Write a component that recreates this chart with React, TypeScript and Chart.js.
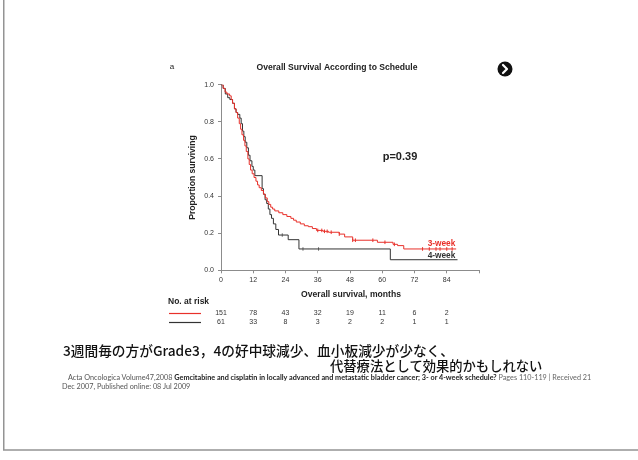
import React, { useEffect, useRef } from "react";
import { Chart, registerables } from "chart.js";

Chart.register(...registerables);

// ---- data ----
const redTimes = [0, 0.8, 1.5, 2.2, 3.2, 3.8, 4.3, 5.0, 5.6, 6.2, 6.8, 7.3, 7.8, 8.4, 8.9, 9.4, 10.0, 10.5, 11.0, 11.6, 12.3, 13.0, 13.6, 14.2, 15.0, 15.8, 16.5, 17.2, 17.8, 18.5, 19.2, 20.0, 21.5, 23.0, 24.5, 26.0, 27.0, 28.0, 29.5, 31.0, 32.5, 34.0, 35.5, 38.0, 40.0, 44.0, 46.0, 49.0, 58.2, 64.0, 65.7, 68.0, 87.5];
const redSurv = [1.0, 0.98, 0.96, 0.95, 0.94, 0.92, 0.9, 0.87, 0.85, 0.82, 0.79, 0.76, 0.73, 0.7, 0.67, 0.64, 0.6, 0.57, 0.54, 0.52, 0.5, 0.48, 0.46, 0.445, 0.43, 0.41, 0.39, 0.37, 0.355, 0.34, 0.33, 0.32, 0.31, 0.3, 0.29, 0.28, 0.27, 0.26, 0.25, 0.24, 0.235, 0.225, 0.215, 0.21, 0.205, 0.195, 0.18, 0.162, 0.151, 0.14, 0.133, 0.115, 0.115];
const blackTimes = [0, 0.8, 1.6, 2.5, 3.3, 4.3, 5.0, 5.6, 6.2, 7.0, 7.5, 8.0, 8.5, 9.0, 9.6, 10.2, 10.8, 11.5, 12.0, 12.6, 15.3, 15.8, 16.4, 17.0, 17.6, 18.2, 18.8, 19.5, 20.4, 21.4, 25.0, 29.0, 63.0, 88.0];
const blackSurv = [1.0, 0.98, 0.95, 0.93, 0.92, 0.9, 0.87, 0.85, 0.84, 0.82, 0.79, 0.75, 0.72, 0.69, 0.66, 0.62, 0.59, 0.56, 0.54, 0.51, 0.44, 0.41, 0.38, 0.36, 0.33, 0.3, 0.28, 0.25, 0.22, 0.19, 0.165, 0.115, 0.057, 0.057];
const redCensor = [36, 37.5, 38.5, 39.5, 41, 44, 49, 50, 56.5, 61, 64.5, 75, 77.5, 80, 81.5, 84, 86];
const blackCensor = [22.8, 30.5, 36.3];

const riskMonths = [0, 12, 24, 36, 48, 60, 72, 84];
const riskRed = [151, 78, 43, 32, 19, 11, 6, 2];
const riskBlack = [61, 33, 8, 3, 2, 2, 1, 1];

const seriesNames = ["3-week", "4-week"];
const titleText = "Overall Survival According to Schedule";
const yTitle = "Proportion surviving";
const xTitle = "Overall survival, months";
const pText = "p=0.39";

const RED = "#e8302a";
const BLACK = "#333333";
const AXIS = "#8c8c8c";

function toPoints(t: number[], s: number[]) {
  return t.map((x, i) => ({ x, y: s[i] }));
}
function lookup(t: number[], s: number[], at: number) {
  let v = s[0];
  for (let i = 0; i < t.length; i++) if (t[i] <= at) v = s[i];
  return v;
}

const overlay = {
  id: "overlay",
  afterDraw(chart: any) {
    const ctx = chart.ctx as CanvasRenderingContext2D;
    const xs = chart.scales.x;
    const ys = chart.scales.y;
    const ca = chart.chartArea;
    ctx.save();
    // frame
    ctx.strokeStyle = "#949494";
    ctx.lineWidth = 1.5;
    ctx.beginPath();
    ctx.moveTo(3.75, 0);
    ctx.lineTo(3.75, 450);
    ctx.lineTo(638, 450);
    ctx.stroke();

    ctx.textBaseline = "middle";
    ctx.fillStyle = "#222";
    ctx.textAlign = "center";
    ctx.font = "8px 'Liberation Sans'";
    ctx.fillText("a", 172, 67);
    ctx.font = "bold 8.6px 'Liberation Sans'";
    ctx.fillText(titleText, 337, 67.5);
    ctx.fillText(xTitle, 351, 295);
    ctx.save();
    ctx.translate(193, (ca.top + ca.bottom) / 2);
    ctx.rotate(-Math.PI / 2);
    ctx.fillText(yTitle, 0, 0);
    ctx.restore();

    ctx.font = "bold 11px 'Liberation Sans'";
    ctx.fillText(pText, 400, 157);

    ctx.font = "bold 8.3px 'Liberation Sans'";
    ctx.fillStyle = RED;
    ctx.fillText(seriesNames[0], 441.5, ys.getPixelForValue(0.145));
    ctx.fillStyle = BLACK;
    ctx.fillText(seriesNames[1], 441.5, ys.getPixelForValue(0.078));

    // number at risk
    ctx.fillStyle = "#222";
    ctx.textAlign = "left";
    ctx.font = "bold 8.5px 'Liberation Sans'";
    ctx.fillText("No. at risk", 168, 301.5);
    ctx.lineWidth = 1.2;
    ctx.strokeStyle = RED;
    ctx.beginPath();
    ctx.moveTo(169, 313.5);
    ctx.lineTo(201, 313.5);
    ctx.stroke();
    ctx.strokeStyle = BLACK;
    ctx.beginPath();
    ctx.moveTo(169, 322.5);
    ctx.lineTo(201, 322.5);
    ctx.stroke();
    ctx.textAlign = "center";
    ctx.font = "7px 'Liberation Sans'";
    ctx.fillStyle = "#333";
    riskMonths.forEach((m, i) => {
      const px = xs.getPixelForValue(m);
      ctx.fillText(String(riskRed[i]), px, 313);
      ctx.fillText(String(riskBlack[i]), px, 322);
    });

    // arrow icon
    ctx.fillStyle = "#111";
    ctx.beginPath();
    ctx.arc(505, 69, 7.5, 0, Math.PI * 2);
    ctx.fill();
    ctx.strokeStyle = "#fff";
    ctx.lineWidth = 2.2;
    ctx.lineCap = "round";
    ctx.lineJoin = "round";
    ctx.beginPath();
    ctx.moveTo(503, 65);
    ctx.lineTo(507, 69);
    ctx.lineTo(503, 73);
    ctx.stroke();
    ctx.restore();
  },
};

export default function App() {
  const ref = useRef<HTMLCanvasElement | null>(null);
  useEffect(() => {
    if (!ref.current) return;
    const tickFont = { family: "'Liberation Sans'", size: 7 };
    const chart = new Chart(ref.current, {
      type: "line",
      data: {
        datasets: [
          {
            label: seriesNames[0],
            data: toPoints(redTimes, redSurv),
            borderColor: RED,
            borderWidth: 1,
            pointRadius: 0,
            stepped: true,
            fill: false,
          },
          {
            label: seriesNames[1],
            data: toPoints(blackTimes, blackSurv),
            borderColor: BLACK,
            borderWidth: 1,
            pointRadius: 0,
            stepped: true,
            fill: false,
          },
          {
            label: seriesNames[0] + " censored",
            data: redCensor.map((x) => ({ x, y: lookup(redTimes, redSurv, x) })),
            showLine: false,
            pointStyle: "line",
            rotation: 90,
            pointRadius: 1.8,
            pointBorderWidth: 1,
            pointBorderColor: RED,
          },
          {
            label: seriesNames[1] + " censored",
            data: blackCensor.map((x) => ({ x, y: lookup(blackTimes, blackSurv, x) })),
            showLine: false,
            pointStyle: "line",
            rotation: 90,
            pointRadius: 1.8,
            pointBorderWidth: 1,
            pointBorderColor: "#777",
          },
        ],
      },
      options: {
        responsive: false,
        animation: false,
        events: [],
        layout: { padding: { left: 180, right: 159, top: 84.7, bottom: 169.7 } },
        plugins: { legend: { display: false }, tooltip: { enabled: false }, title: { display: false } },
        scales: {
          x: {
            type: "linear",
            min: 0,
            max: 96,
            afterFit: (s: any) => {
              s.height = 20;
            },
            ticks: {
              stepSize: 12,
              font: tickFont,
              color: "#333",
              padding: 3,
              maxRotation: 0,
              callback: (v: any) => (Number(v) === 96 ? "" : String(v)),
            },
            grid: { drawOnChartArea: false, drawTicks: true, tickLength: 3, color: AXIS },
            border: { color: AXIS, width: 1 },
          },
          y: {
            min: 0,
            max: 1,
            afterFit: (s: any) => {
              s.width = 41;
            },
            ticks: {
              stepSize: 0.2,
              font: tickFont,
              color: "#333",
              padding: 4,
              callback: (v: any) => Number(v).toFixed(1),
            },
            grid: { drawOnChartArea: false, drawTicks: true, tickLength: 3, color: AXIS },
            border: { color: AXIS, width: 1 },
          },
        },
      },
      plugins: [overlay],
    } as any);
    return () => chart.destroy();
  }, []);

  const jp = "'Noto Sans CJK JP', sans-serif";
  const cite = "Lato, 'Open Sans', sans-serif";
  return (
    <div style={{ position: "fixed", left: 0, top: 0, width: 638, height: 460, background: "#fff", overflow: "hidden" }}>
      <canvas ref={ref} width={638} height={460} style={{ position: "absolute", left: 0, top: 0, width: 638, height: 460 }} />
      <div style={{ position: "absolute", left: 63, top: 342, fontFamily: jp, fontSize: 13.7, fontWeight: 500, lineHeight: "16px", color: "#111", whiteSpace: "nowrap" }}>
        3週間毎の方がGrade3，4の好中球減少、血小板減少が少なく、
      </div>
      <div style={{ position: "absolute", left: 330, top: 358, fontFamily: jp, fontSize: 13.3, fontWeight: 500, lineHeight: "16px", color: "#111", whiteSpace: "nowrap" }}>
        代替療法として効果的かもしれない
      </div>
      <div style={{ position: "absolute", left: 68, top: 374, fontFamily: cite, fontSize: 7.25, lineHeight: "8px", color: "#555", whiteSpace: "nowrap" }}>
        Acta Oncologica Volume47,2008{" "}
        <span style={{ color: "#222", fontWeight: 700 }}>
          Gemcitabine and cisplatin in locally advanced and metastatic bladder cancer; 3- or 4-week schedule?
        </span>{" "}
        <span style={{ color: "#666" }}>Pages 110-119 | Received 21</span>
      </div>
      <div style={{ position: "absolute", left: 62, top: 382.5, fontFamily: cite, fontSize: 7.25, lineHeight: "8px", color: "#555", whiteSpace: "nowrap" }}>
        Dec 2007, Published online: 08 Jul 2009
      </div>
    </div>
  );
}
